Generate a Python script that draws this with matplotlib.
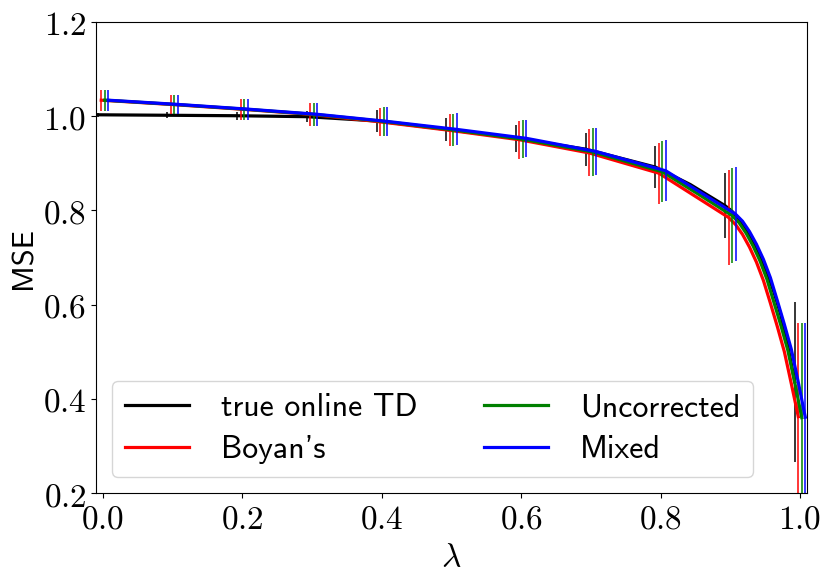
import numpy as np
import matplotlib
matplotlib.use('Agg')
import matplotlib.pyplot as plt

plt.rcParams['mathtext.fontset'] = 'cm'

# lambda values where error bars are drawn
lam = [0.0, 0.1, 0.2, 0.3, 0.4, 0.5, 0.6, 0.7, 0.8, 0.9, 1.0]
# extra points for the steep part of the curves
lam_fine = [0.0, 0.1, 0.2, 0.3, 0.4, 0.5, 0.6, 0.7, 0.8, 0.85, 0.9,
            0.91, 0.92, 0.93, 0.94, 0.95, 0.96, 0.97, 0.98, 0.99, 1.0]

true_online = [1.003, 1.002, 1.001, 0.999, 0.990, 0.972, 0.953, 0.930, 0.892, 0.855,
               0.810, 0.798, 0.782, 0.761, 0.736, 0.705, 0.669, 0.627, 0.578, 0.512, 0.436]
boyan = [1.034, 1.025, 1.015, 1.004, 0.988, 0.970, 0.950, 0.922, 0.879, 0.832,
         0.785, 0.770, 0.749, 0.722, 0.690, 0.651, 0.603, 0.553, 0.500, 0.432, 0.362]
uncorrected = [1.034, 1.025, 1.015, 1.004, 0.989, 0.971, 0.951, 0.924, 0.882, 0.836,
               0.789, 0.774, 0.752, 0.725, 0.693, 0.654, 0.605, 0.556, 0.503, 0.434, 0.360]
mixed = [1.034, 1.025, 1.015, 1.004, 0.989, 0.972, 0.953, 0.925, 0.884, 0.838,
         0.792, 0.777, 0.755, 0.728, 0.696, 0.657, 0.608, 0.558, 0.505, 0.435, 0.361]

err_true = [0.004, 0.006, 0.008, 0.012, 0.024, 0.025, 0.028, 0.035, 0.045, 0.069, 0.17]
err_other = [0.022, 0.021, 0.022, 0.024, 0.030, 0.034, 0.040, 0.050, 0.065, 0.10, 0.20]

names = ['true online TD', "Boyan's", 'Uncorrected', 'Mixed']
colors = ['black', 'red', 'green', 'blue']
offsets = [-0.0075, -0.0025, 0.0025, 0.0075]
series = [true_online, boyan, uncorrected, mixed]
errs = [err_true, err_other, err_other, err_other]

xticks = [0.0, 0.2, 0.4, 0.6, 0.8, 1.0]
yticks = [0.2, 0.4, 0.6, 0.8, 1.0, 1.2]

fig = plt.figure(figsize=(8.3, 5.79), dpi=100)
ax = fig.add_axes([0.1157, 0.1485, 0.8566, 0.8135])

lam_fine_a = np.array(lam_fine)
lam_a = np.array(lam)
idx = [lam_fine.index(l) for l in lam]
for name, c, off, y, e in zip(names, colors, offsets, series, errs):
    y = np.array(y)
    ax.plot(lam_fine_a + off, y, color=c, lw=2.3, label=name)
    ax.errorbar(lam_a + off, y[idx], yerr=e, fmt='none', ecolor=c, elinewidth=1.1)

ax.set_xlim(-0.01, 1.01)
ax.set_ylim(0.2, 1.2)
ax.set_xticks(xticks)
ax.set_xticklabels(['$%.1f$' % t for t in xticks], fontsize=24)
ax.set_yticks(yticks)
ax.set_yticklabels(['$%.1f$' % t for t in yticks], fontsize=24)
ax.set_xlabel(r'$\lambda$', fontsize=24)
ax.set_ylabel('MSE', fontsize=22, family='cmss10')

ax.legend(loc='lower left', ncol=2, prop={'family': 'cmss10', 'size': 23},
          handlelength=2.0, handletextpad=1.0, columnspacing=2.1,
          labelspacing=0.4, framealpha=0.8)

fig.savefig('out.png', dpi=100)
